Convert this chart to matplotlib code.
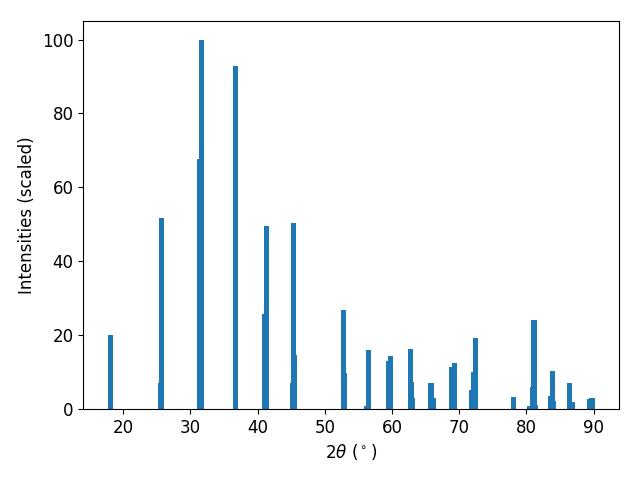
import matplotlib
matplotlib.use("Agg")
import matplotlib.pyplot as plt

# peak positions (2theta, degrees) and scaled intensities
two_theta = [18.06,
             25.60, 25.72,
             31.38, 31.66,
             36.68,
             41.08, 41.30,
             45.15, 45.38, 45.52,
             52.77, 52.94,
             56.20, 56.49,
             59.57, 59.81,
             62.75, 62.93, 63.08,
             65.83, 66.22,
             68.95, 69.34,
             71.93, 72.20, 72.40,
             78.09,
             80.57, 80.87, 81.12, 81.27,
             83.55, 83.90, 84.08,
             86.38, 86.90,
             89.36, 89.75]
intensity = [20.0,
             7.1, 51.6,
             67.7, 100.0,
             92.9,
             25.8, 49.5,
             7.1, 50.3, 14.7,
             26.9, 9.8,
             0.9, 16.0,
             13.0, 14.4,
             16.3, 7.3, 3.0,
             7.1, 3.0,
             11.4, 12.5,
             5.2, 10.1, 19.3,
             3.3,
             0.8, 6.0, 24.2, 1.1,
             3.5, 10.3, 2.2,
             7.1, 2.0,
             2.8, 3.0]

fig = plt.figure(figsize=(6.4, 4.8), dpi=100)
plt.bar(two_theta, intensity)
plt.xlabel(r"$2\theta$ ($^\circ$)", fontsize=12)
plt.ylabel("Intensities (scaled)", fontsize=12)
plt.xticks(fontsize=12)
plt.yticks(fontsize=12)
plt.subplots_adjust(left=0.13, right=0.967, top=0.956, bottom=0.148)
plt.savefig("out.png")
